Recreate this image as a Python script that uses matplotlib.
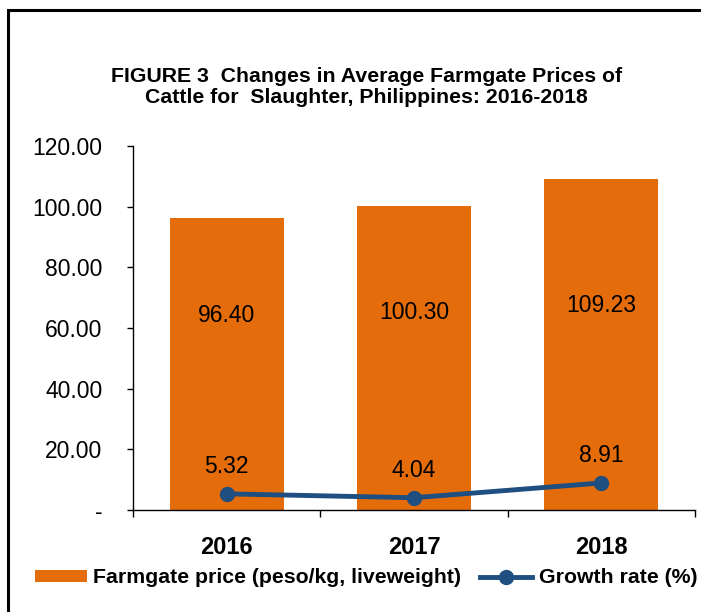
import matplotlib.pyplot as plt
import matplotlib.patches as mpatches
import numpy as np

plt.switch_backend('Agg')
plt.rcParams['font.family'] = ['Liberation Sans', 'DejaVu Sans']

# Data
years = ['2016', '2017', '2018']
farmgate_price = [96.40, 100.30, 109.23]
growth_rate = [5.32, 4.04, 8.91]
y_ticks = [0, 20, 40, 60, 80, 100, 120]

orange = '#E46C0A'
blue = '#1F4E80'

fig = plt.figure(figsize=(7.01, 6.12), dpi=100)
ax = fig.add_axes([133 / 701, 0.1667, 562 / 701, 0.5947])

x = np.arange(len(years))
bars = ax.bar(x, farmgate_price, width=0.61, color=orange, zorder=1,
              label='Farmgate price (peso/kg, liveweight)')
line, = ax.plot(x, growth_rate, color=blue, linewidth=3.5, marker='o', markersize=10,
                zorder=3, label='Growth rate (%)')

# value labels
for xi, v in zip(x, farmgate_price):
    ax.text(xi, 0.25 * v + 40, f'{v:.2f}', ha='center', va='center', fontsize=16.5)
for xi, v in zip(x, growth_rate):
    ax.text(xi, v + 9, f'{v:.2f}', ha='center', va='center', fontsize=16.5)

ax.set_xlim(-0.5, 2.5)
ax.set_ylim(0, 120)
ax.set_yticks(y_ticks)
ax.set_yticklabels(['-' if t == 0 else f'{t:.2f}' for t in y_ticks], fontsize=16.5)
ax.tick_params(axis='y', length=4, pad=18, width=1)

ax.set_xticks(x)
ax.set_xticklabels(years, fontsize=17, fontweight='bold')
ax.tick_params(axis='x', length=0, pad=19)
ax.set_xticks([-0.5, 0.5, 1.5, 2.5], minor=True)
ax.tick_params(axis='x', which='minor', length=5, width=1)

for side in ['top', 'right']:
    ax.spines[side].set_visible(False)
ax.spines['left'].set_linewidth(1)
ax.spines['bottom'].set_linewidth(1)

fig.text(0.523, 0.858, 'FIGURE 3  Changes in Average Farmgate Prices of\nCattle for  Slaughter, Philippines: 2016-2018',
         ha='center', va='center', fontsize=15.3, fontweight='bold', linespacing=1.1)

fig.legend([bars, line], ['Farmgate price (peso/kg, liveweight)', 'Growth rate (%)'],
           loc='center', bbox_to_anchor=(0.522, 0.056), ncol=2, frameon=False,
           prop={'size': 15.3, 'weight': 'bold'}, handlelength=2.45,
           handleheight=0.47, handletextpad=0.3, columnspacing=0.9,
           borderaxespad=0, borderpad=0)

# outer frame (cut off at right and bottom like the reference)
frame = mpatches.Rectangle((8 / 701, -0.05), 1.1, 1 - 10 / 612 + 0.05,
                           transform=fig.transFigure, fill=False,
                           edgecolor='black', linewidth=2.2, clip_on=False)
fig.patches.append(frame)

fig.savefig('out.png', dpi=100)
